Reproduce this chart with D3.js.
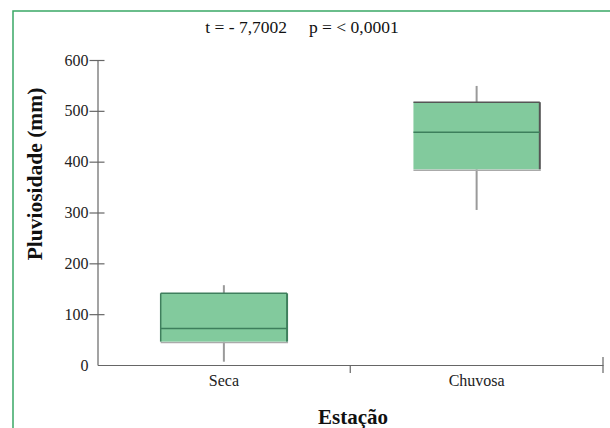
<!DOCTYPE html>
<html><head><meta charset="utf-8">
<script src="https://cdn.jsdelivr.net/npm/d3@7"></script>
<style>body{margin:0;background:#fff}svg{display:block}</style>
</head><body><svg id="c" width="610" height="428" font-family="Liberation Serif"></svg>
<script>
const categories = ["Seca", "Chuvosa"];
const mins    = [6.5, 305];
const q1s     = [46, 385];
const medians = [72, 458];
const q3s     = [141, 517];
const maxs    = [157, 549];
const yTicks  = [0, 100, 200, 300, 400, 500, 600];
const title = "t = - 7,7002     p = < 0,0001";

const FONT = "Liberation Serif";
const svg = d3.select("#c");
const m = {left: 97.5, right: 603, top: 60, bottom: 365};

// frame
svg.append("rect").attr("x", 13).attr("y", 11).attr("width", 640).attr("height", 440)
  .attr("fill", "none").attr("stroke", "#3aa865").attr("stroke-width", 1.5);

const x = d3.scaleBand().domain(categories).range([m.left, m.right]);
const y = d3.scaleLinear().domain([0, 600]).range([m.bottom, m.top]);

// y axis
const ya = svg.append("g").attr("transform", `translate(${m.left},0)`)
  .call(d3.axisLeft(y).tickValues(yTicks).tickSize(0).tickPadding(9));
ya.attr("font-family", FONT).attr("font-size", 16);
ya.select(".domain").attr("stroke", "#666").attr("stroke-width", 1.2);
ya.selectAll("text").attr("fill", "#222");
ya.selectAll(".tick").filter(d => d > 0).append("line")
  .attr("x1", -8).attr("x2", 7).attr("stroke", "#666").attr("stroke-width", 1.2);

// x axis
const xa = svg.append("g").attr("transform", `translate(0,${m.bottom})`)
  .call(d3.axisBottom(x).tickSize(0).tickPadding(10));
xa.attr("font-family", FONT).attr("font-size", 16);
xa.select(".domain").attr("stroke", "#666").attr("stroke-width", 1.2);
xa.selectAll("text").attr("fill", "#222");
xa.selectAll(".bnd").data(categories).enter().append("line")
  .attr("x1", d => x(d) + x.bandwidth()).attr("x2", d => x(d) + x.bandwidth())
  .attr("y1", (d, i) => i === categories.length - 1 ? -8 : 0).attr("y2", 8)
  .attr("stroke", "#666").attr("stroke-width", 1.2);

// boxes
const bw = x.bandwidth() / 2;
const g = svg.append("g");
categories.forEach((c, i) => {
  const cx = x(c) + x.bandwidth() / 2;
  g.append("line").attr("x1", cx).attr("x2", cx).attr("y1", y(maxs[i])).attr("y2", y(q3s[i]))
    .attr("stroke", "#9a9a9a").attr("stroke-width", 2);
  g.append("line").attr("x1", cx).attr("x2", cx).attr("y1", y(q1s[i])).attr("y2", y(mins[i]))
    .attr("stroke", "#9a9a9a").attr("stroke-width", 2);
  g.append("line").attr("x1", cx - bw/2).attr("x2", cx + bw/2 + 1).attr("y1", y(q1s[i]) + 1).attr("y2", y(q1s[i]) + 1)
    .attr("stroke", "#aaa").attr("stroke-width", 1.5);
  g.append("rect").attr("x", cx - bw/2).attr("y", y(q3s[i]))
    .attr("width", bw).attr("height", y(q1s[i]) - y(q3s[i]))
    .attr("fill", "#82ca9d");
  const edge = i === 0 ? "#3f7f5d" : "#555";
  g.append("line").attr("x1", cx - bw/2).attr("x2", cx + bw/2).attr("y1", y(q3s[i])).attr("y2", y(q3s[i]))
    .attr("stroke", edge).attr("stroke-width", 1.5);
  g.append("line").attr("x1", cx + bw/2).attr("x2", cx + bw/2).attr("y1", y(q3s[i])).attr("y2", y(q1s[i]))
    .attr("stroke", edge).attr("stroke-width", 2);
  if (i === 0) {
    g.append("line").attr("x1", cx - bw/2).attr("x2", cx - bw/2).attr("y1", y(q3s[i])).attr("y2", y(q1s[i]))
      .attr("stroke", "#3f7f5d").attr("stroke-width", 1.5);
  }
  g.append("line").attr("x1", cx - bw/2).attr("x2", cx + bw/2).attr("y1", y(medians[i])).attr("y2", y(medians[i]))
    .attr("stroke", "#3d7f5c").attr("stroke-width", 1.5);
});

// titles
svg.append("text").attr("x", 302).attr("y", 33).attr("text-anchor", "middle")
  .attr("font-family", FONT).attr("font-size", 17.5).attr("fill", "#111")
  .attr("xml:space", "preserve").style("white-space", "pre").text(title);
svg.append("text").attr("transform", "translate(42,174) rotate(-90)").attr("text-anchor", "middle")
  .attr("font-family", FONT).attr("font-size", 21.5).attr("font-weight", "bold").attr("fill", "#111")
  .text("Pluviosidade (mm)");
svg.append("text").attr("x", 353).attr("y", 424).attr("text-anchor", "middle")
  .attr("font-family", FONT).attr("font-size", 21).attr("font-weight", "bold").attr("fill", "#111")
  .text("Estação");
</script></body></html>
